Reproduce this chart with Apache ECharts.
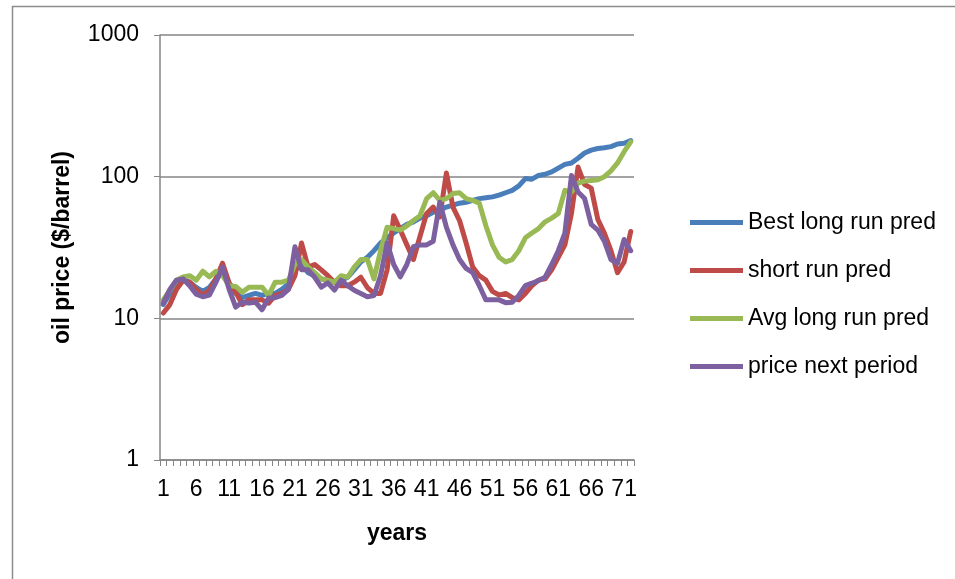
<!DOCTYPE html>
<html>
<head>
<meta charset="utf-8">
<title>oil price predictions</title>
<script src="https://cdn.jsdelivr.net/npm/echarts@6/dist/echarts.min.js"></script>
<style>
  html, body { margin: 0; padding: 0; background: #fff; }
  #chart { width: 955px; height: 579px; }
</style>
</head>
<body>
<div id="chart"></div>
<script>
// years 1..72 on the category axis
const years = [
  '1', '2', '3', '4', '5', '6', '7', '8', '9', '10', '11', '12',
  '13', '14', '15', '16', '17', '18', '19', '20', '21', '22', '23', '24',
  '25', '26', '27', '28', '29', '30', '31', '32', '33', '34', '35', '36',
  '37', '38', '39', '40', '41', '42', '43', '44', '45', '46', '47', '48',
  '49', '50', '51', '52', '53', '54', '55', '56', '57', '58', '59', '60',
  '61', '62', '63', '64', '65', '66', '67', '68', '69', '70', '71', '72'
]

// values ($/barrel)
const bestLongRun = [
  12.5, 15, 18, 19, 18, 16.5, 15.5, 16.5, 19, 21, 17.5, 15,
  14, 14.5, 15, 14.5, 15, 15, 16, 17.5, 22, 24, 21, 20,
  19, 18.5, 18, 18.5, 19.5, 22, 25, 27, 30, 34, 37, 40,
  43, 46, 48, 51, 53, 56, 58, 61, 63, 65, 66, 68,
  70, 71, 72, 74, 77, 80, 86, 97, 96, 102, 104, 108,
  115, 122, 125, 135, 147, 154, 158, 160, 163, 170, 172, 180
]
const shortRun = [
  10.9, 12.5, 16, 18.5, 18, 16, 14.6, 15.8, 19, 24.5, 17.8, 15.3,
  12.5, 13.5, 13.5, 13.5, 12.8, 14.5, 15, 16, 20, 34, 23, 24,
  22, 20, 18, 17, 17, 18, 19.5, 16.5, 15, 15, 22, 53,
  42, 33, 26, 38, 55, 61, 52, 106, 61, 49, 34, 23,
  20, 18.6, 15.5, 14.6, 15, 14, 13.5, 15, 17, 18.6, 19, 22,
  27, 33, 55, 117, 88, 83, 50, 40, 30, 21, 25, 41
]
const avgLongRun = [
  13.5, 15.8, 18.6, 19.6, 20, 18.6, 21.5, 19.6, 21.5, 20, 17, 16.8,
  15.3, 16.6, 16.6, 16.6, 14.5, 18, 18, 18.6, 24, 26, 23, 21,
  19, 18.6, 18, 20, 19.5, 23, 26, 26, 19, 30, 44, 43,
  42, 45, 49, 53, 70, 77, 68, 70, 76, 77, 70, 68,
  65, 45, 33, 27, 25, 26, 30, 37, 40, 43, 48, 51,
  55, 80, 78, 90, 93, 94, 95, 100, 110, 125, 150, 176
]
const priceNext = [
  12.8, 16, 18.6, 19, 17, 14.8, 14.2, 14.6, 18, 23, 16, 12,
  13, 12.8, 13, 11.5, 13.9, 14, 14.5, 16, 32, 22, 22, 19.5,
  16.6, 17.8, 15.8, 18.6, 17, 15.8, 15, 14.2, 14.5, 20, 34, 24,
  19.6, 24, 32, 33, 33, 35, 66, 44, 33, 26, 22.5, 21,
  17, 13.5, 13.5, 13.5, 12.9, 13, 14.5, 17, 17.7, 18.5, 19.5, 24,
  30, 40, 102, 78, 70, 46, 42, 35, 26, 24.5, 36, 30
]

const seriesNames = ['Best long run pred', 'short run pred', 'Avg long run pred', 'price next period']
const seriesData = [bestLongRun, shortRun, avgLongRun, priceNext]
const colors = ['#4a7ebb', '#be4b48', '#98b954', '#7d60a0']

const font = "'Liberation Sans', Arial, sans-serif"
const axisGray = '#868686'

const chart = echarts.init(document.getElementById('chart'))

chart.setOption({
  animation: false,
  color: colors,
  textStyle: { fontFamily: font },
  graphic: [{
    // outer chart frame, only top and left show in the window
    type: 'rect',
    left: 10,
    top: 4,
    shape: { width: 1000, height: 640 },
    style: { fill: 'none', stroke: '#8c8c8c', lineWidth: 1.5 },
    silent: true,
  }],
  grid: { left: 160, right: 321, top: 35, bottom: 119 },
  legend: {
    orient: 'vertical',
    left: 685,
    top: 206,
    itemWidth: 53,
    itemHeight: 5,
    itemGap: 25,
    icon: 'rect',
    data: seriesNames,
    textStyle: { fontSize: 23, color: '#000', fontFamily: font },
  },
  xAxis: {
    type: 'category',
    data: years,
    boundaryGap: true,
    name: 'years',
    nameLocation: 'middle',
    nameGap: 62,
    nameTextStyle: { fontSize: 23, fontWeight: 'bold', color: '#000' },
    axisLine: { lineStyle: { color: axisGray, width: 1.5 } },
    axisTick: { show: true, interval: 0, length: 6, lineStyle: { color: axisGray } },
    axisLabel: { interval: 4, fontSize: 23, color: '#000', margin: 18 },
    splitLine: { show: false },
  },
  yAxis: {
    type: 'log',
    logBase: 10,
    min: 1,
    max: 1000,
    name: 'oil price ($/barrel)',
    nameLocation: 'middle',
    nameGap: 86,
    nameTextStyle: { fontSize: 23, fontWeight: 'bold', color: '#000' },
    axisLine: { show: true, lineStyle: { color: axisGray, width: 1.5 } },
    axisTick: { show: true, length: 6, lineStyle: { color: axisGray } },
    axisLabel: { fontSize: 23, color: '#000', margin: 21, formatter: (v) => String(v) },
    splitLine: { show: true, lineStyle: { color: axisGray, width: 1.5 } },
    minorTick: { show: false },
  },
  series: seriesNames.map((name, i) => ({
    name,
    type: 'line',
    data: seriesData[i],
    symbol: 'none',
    smooth: false,
    lineStyle: { width: 5, cap: 'round', join: 'round' },
  })),
})
</script>
</body>
</html>
